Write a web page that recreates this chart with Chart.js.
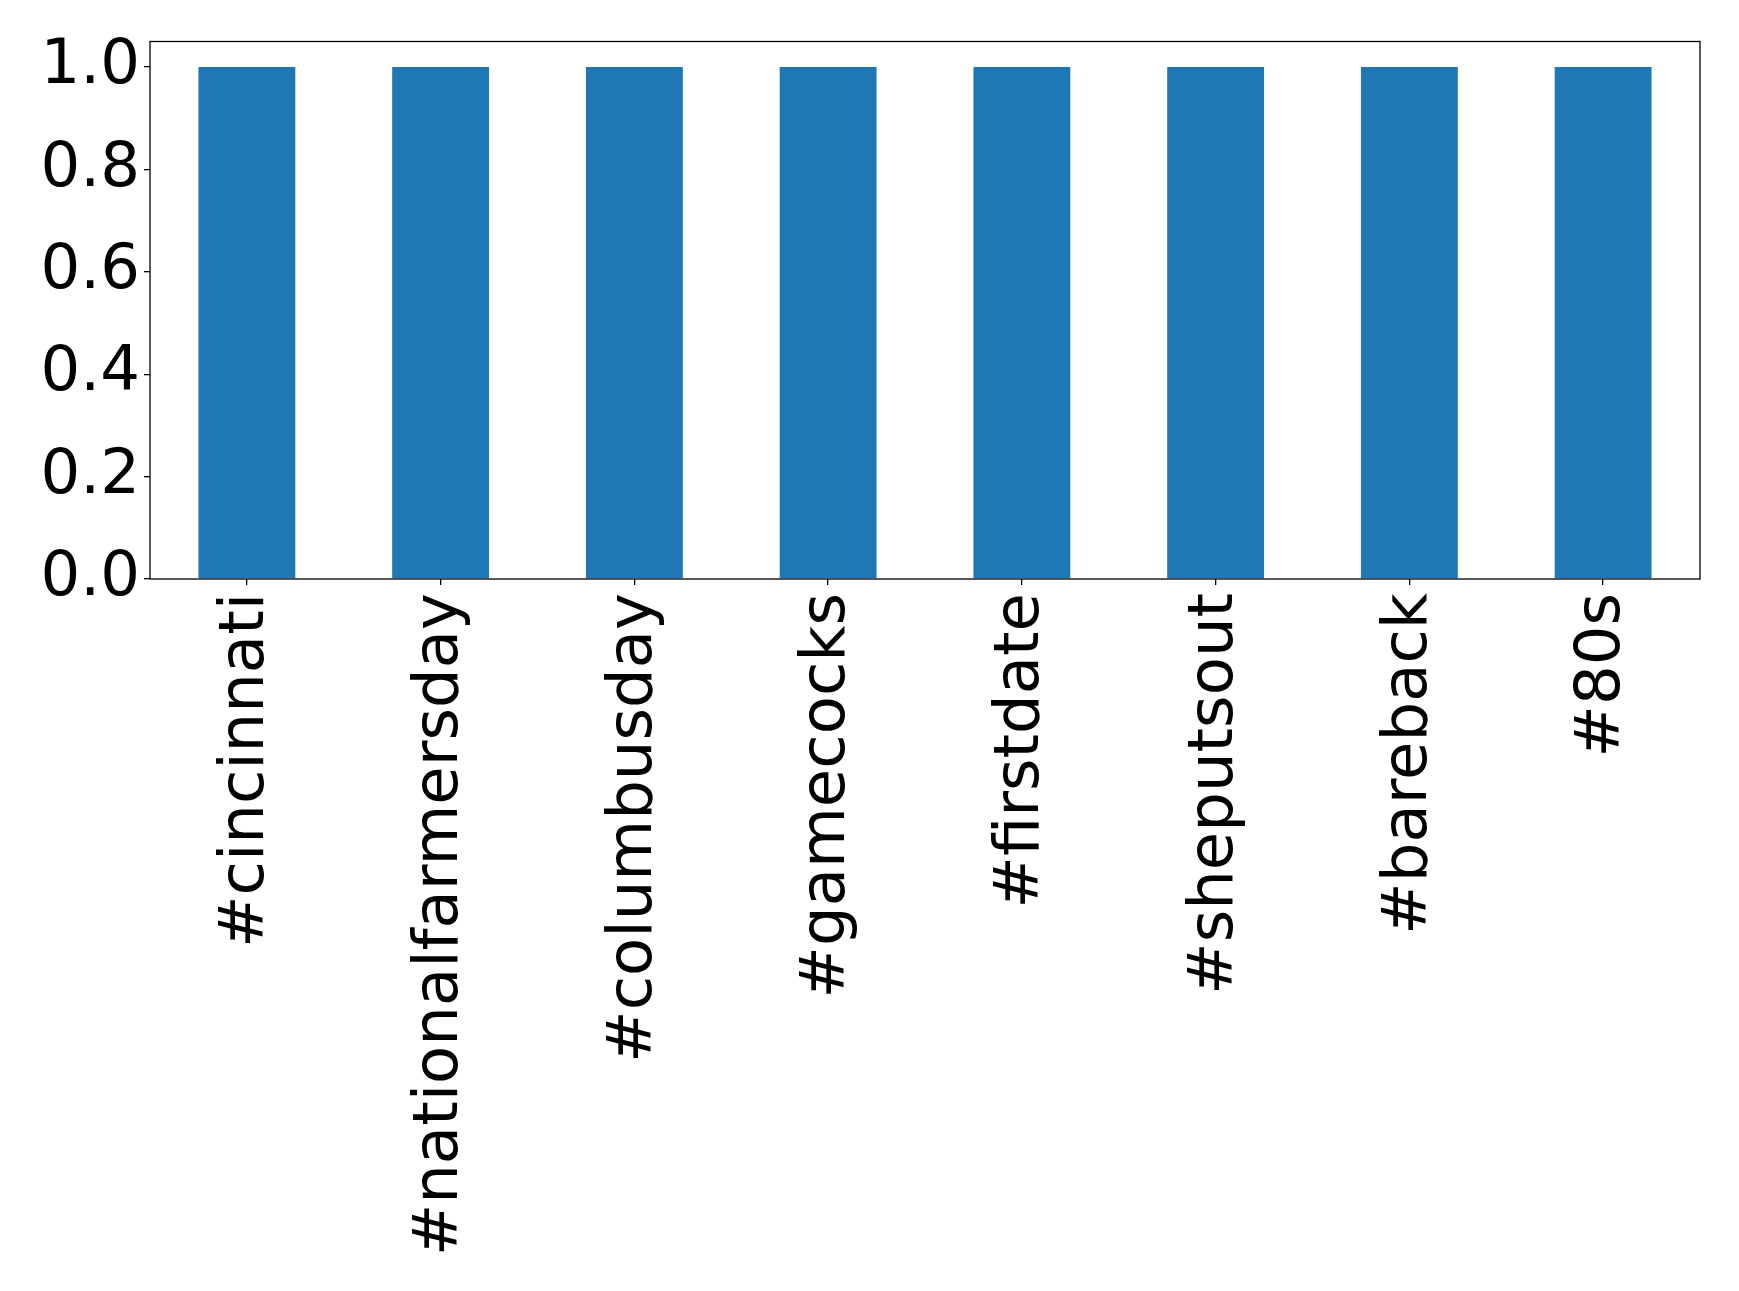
<!DOCTYPE html>
<html>
<head>
<meta charset="utf-8">
<script src="https://cdn.jsdelivr.net/npm/chart.js@4/dist/chart.umd.min.js"></script>
<style>
  html, body { margin: 0; padding: 0; background: #fff; }
  #wrap { width: 1739px; height: 1291px; }
</style>
</head>
<body>
<div id="wrap"><canvas id="chart" width="1739" height="1291"></canvas></div>
<script>
const categories = [
  "#cincinnati",
  "#nationalfarmersday",
  "#columbusday",
  "#gamecocks",
  "#firstdate",
  "#sheputsout",
  "#bareback",
  "#80s"
];
const values = [1.0, 1.0, 1.0, 1.0, 1.0, 1.0, 1.0, 1.0];
const yTicks = [0.0, 0.2, 0.4, 0.6, 0.8, 1.0];

const FONT = { family: "'DejaVu Sans', sans-serif", size: 62.5 };

// matplotlib-like box around the axes
const frame = {
  id: "frame",
  afterDraw(chart) {
    const { ctx, chartArea: a } = chart;
    ctx.save();
    ctx.strokeStyle = "#000";
    ctx.lineWidth = 1.3;
    ctx.strokeRect(a.left, a.top, a.right - a.left, a.bottom - a.top);
    ctx.restore();
  }
};

new Chart(document.getElementById("chart").getContext("2d"), {
  type: "bar",
  data: {
    labels: categories,
    datasets: [{
      data: values,
      backgroundColor: "#1f77b4",
      borderWidth: 0,
      barPercentage: 0.5,
      categoryPercentage: 1.0
    }]
  },
  options: {
    responsive: false,
    animation: false,
    layout: { padding: { top: 41, right: 39, left: 0, bottom: 0 } },
    plugins: { legend: { display: false }, tooltip: { enabled: false } },
    scales: {
      x: {
        offset: true,
        grid: { display: true, drawOnChartArea: false, offset: false, color: "#000", tickLength: 6, lineWidth: 1.3 },
        border: { display: false },
        ticks: { color: "#000", font: FONT, minRotation: 90, maxRotation: 90, padding: 8, autoSkip: false },
        afterFit(scale) { scale.height = 1291 - 579; }
      },
      y: {
        min: 0,
        max: 1.05,
        grid: { display: true, drawOnChartArea: false, color: "#000", tickLength: 6, lineWidth: 1.3 },
        border: { display: false },
        ticks: { color: "#000", font: FONT, padding: 4, callback: (v) => Number(v).toFixed(1) },
        afterBuildTicks(scale) { scale.ticks = yTicks.map((v) => ({ value: v })); },
        afterFit(scale) { scale.width = 150; }
      }
    }
  },
  plugins: [frame]
});
</script>
</body>
</html>
